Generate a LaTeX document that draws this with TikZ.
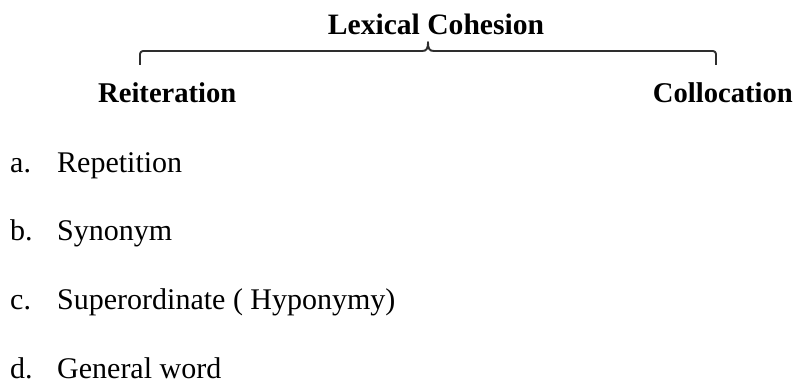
\documentclass[tikz,border=0pt]{standalone}
\usepackage{fontspec}
\setmainfont{Liberation Serif}
\begin{document}
\begin{tikzpicture}[x=1pt,y=-1pt,
  head/.style={inner sep=0pt,font=\fontsize{28.6}{32}\selectfont\bfseries},
  item/.style={inner sep=0pt,anchor=base west,font=\fontsize{30}{32}\selectfont},
  bracket/.style={line width=1.9pt,draw=black!82,line join=round}]
\useasboundingbox (0,0) rectangle (798,385);

% headings
\node[head,anchor=base,font=\fontsize{29.6}{32}\selectfont\bfseries] (lex) at (436,35) {Lexical Cohesion};
\node[head,anchor=base west] (rei) at (98,103) {Reiteration};
\node[head,anchor=base east] (col) at (793,103) {Collocation};

% brace joining the two branches
\coordinate (bl) at (140,65);
\coordinate (br) at (716,65);
\coordinate (tip) at (428,42);
\draw[bracket,rounded corners=3pt] (bl) -- (140,51) -- (422,51);
\draw[bracket] (422,51) .. controls (426.5,51) and (428,49) .. (tip)
               .. controls (428,49) and (429.5,51) .. (434,51);
\draw[bracket,rounded corners=3pt] (434,51) -- (716,51) -- (br);

% list of reiteration types
\node[item] (la) at (10,172) {a.};
\node[item] (ta) at (57,172) {Repetition};
\node[item] (lb) at (10,240) {b.};
\node[item] (tb) at (57,240) {Synonym};
\node[item] (lc) at (10,309) {c.};
\node[item] (tc) at (57,309) {Superordinate ( Hyponymy)};
\node[item] (ld) at (10,378) {d.};
\node[item] (td) at (57,378) {General word};
\end{tikzpicture}
\end{document}
